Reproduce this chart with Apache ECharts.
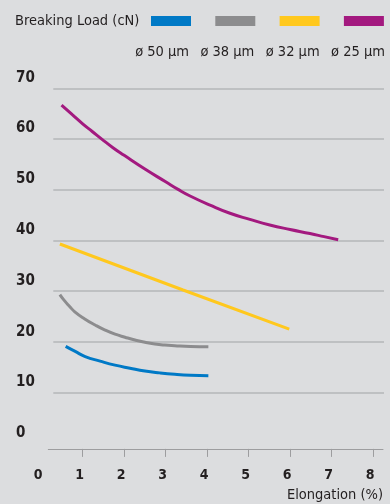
<!DOCTYPE html>
<html>
<head>
<meta charset="utf-8">
<script src="https://cdn.jsdelivr.net/npm/echarts@6/dist/echarts.min.js"></script>
<style>
  html, body { margin: 0; padding: 0; background: #dcdddf; }
  #chart { width: 390px; height: 504px; }
</style>
</head>
<body>
<div id="chart"></div>
<script>
// Breaking load vs elongation for four wire diameters
const seriesNames = ['ø 50 µm', 'ø 38 µm', 'ø 32 µm', 'ø 25 µm'];
const seriesColors = ['#0079c6', '#8c8c8e', '#ffc81e', '#a3197f'];

// [elongation %, breaking load cN]
const wire50 = [[0.59, 19.2], [0.82, 18.2], [1.06, 17.2], [1.42, 16.3], [1.78, 15.5], [2.14, 14.9],
  [2.5, 14.35], [2.86, 13.98], [3.22, 13.7], [3.6, 13.5], [4.03, 13.4]];
const wire38 = [[0.45, 29.4], [0.55, 28.3], [0.68, 27.1], [0.81, 26.0], [1.05, 24.6], [1.3, 23.4],
  [1.54, 22.4], [1.78, 21.6], [2.02, 21.0], [2.26, 20.45], [2.5, 20.0], [2.74, 19.66],
  [2.98, 19.45], [3.22, 19.33], [3.6, 19.18], [4.03, 19.1]];
const wire32 = [[0.45, 39.35], [3.42, 30.3], [5.98, 22.6]];
const wire25 = [[0.49, 66.7], [0.75, 64.8], [1.0, 63.0], [1.23, 61.5], [1.46, 60.0], [1.73, 58.3],
  [2.0, 56.8], [2.5, 54.1], [3.0, 51.6], [3.3, 50.1], [3.59, 48.8], [4.07, 47.0], [4.55, 45.4],
  [5.03, 44.2], [5.51, 43.1], [6.0, 42.2], [6.48, 41.4], [6.82, 40.8], [7.16, 40.2]];
const seriesData = [wire50, wire38, wire32, wire25];

const xTicks = [1, 2, 3, 4, 5, 6, 7, 8];
const xLabels = [0, 1, 2, 3, 4, 5, 6, 7, 8];
const yMin = 0, yMax = 70, yStep = 10;
const xMin = 0, xMax = 8.24;
// the drawn axis line begins a little right of zero
const xLineStart = 0.171;

const FONT = "'Liberation Sans Narrow', 'DejaVu Sans Condensed', 'Roboto', sans-serif";
const TEXT = '#231f20';
const AXIS = '#9d9d9f';

const chart = echarts.init(document.getElementById('chart'), null, { renderer: 'canvas' });

// plot area shared by the series; the x axis sits a few pixels below the zero line
const plotTop = 88.3, plotBottom = 60.1, axisBottom = 55.1;

const isWhole = v => Math.abs(v - Math.round(v)) < 1e-6;

chart.setOption({
  animation: false,
  backgroundColor: '#dcdddf',
  title: {
    text: 'Breaking Load (cN)',
    left: 15,
    top: 14,
    padding: 0,
    textStyle: { fontFamily: FONT, fontSize: 14.5, fontWeight: 'normal', color: TEXT }
  },
  legend: [
    {
      // colour swatches
      data: seriesNames,
      left: 151,
      top: 16,
      width: 239,
      padding: 0,
      icon: 'rect',
      itemWidth: 40,
      itemHeight: 10,
      itemGap: 24.3,
      formatter: () => '',
      textStyle: { fontSize: 1 },
      selectedMode: false
    },
    {
      // diameter captions under the swatches
      data: seriesNames,
      left: 128,
      top: 45,
      width: 262,
      padding: 0,
      itemWidth: 0,
      itemHeight: 0,
      itemGap: 4.3,
      itemStyle: { opacity: 0 },
      lineStyle: { opacity: 0 },
      selectedMode: false,
      formatter: n => '{t|' + n + '}',
      textStyle: {
        fontFamily: FONT, fontSize: 14.5, color: TEXT,
        rich: { t: { width: 55, align: 'right', fontFamily: FONT, fontSize: 14.5, color: TEXT } }
      }
    }
  ],
  grid: [
    { left: 41.2, right: 7, top: plotTop, bottom: plotBottom, outerBoundsMode: 'none' },   // series + y labels
    { left: 38.2, right: 10, top: plotTop, bottom: axisBottom, outerBoundsMode: 'none' },  // x labels
    { left: 48.3, right: 7, top: plotTop, bottom: axisBottom, outerBoundsMode: 'none' },   // x axis line, ticks, name
    { left: 53.3, right: 6, top: plotTop, bottom: 111.3, outerBoundsMode: 'none' }         // horizontal grid lines
  ],
  xAxis: [
    {
      gridIndex: 0, type: 'value', min: xMin, max: xMax, show: false
    },
    {
      gridIndex: 1, type: 'value', min: xMin, max: xMax,
      axisLine: { show: false },
      splitLine: { show: false },
      axisTick: { show: false },
      axisLabel: {
        show: true, margin: 19, hideOverlap: false,
        showMinLabel: true, showMaxLabel: false,
        verticalAlign: 'top', lineHeight: 15,
        customValues: xLabels.concat([xMax]),
        formatter: v => (isWhole(v) ? String(Math.round(v)) : ''),
        fontFamily: FONT, fontSize: 14, fontWeight: 'bold', color: TEXT
      }
    },
    {
      gridIndex: 2, type: 'value', min: xLineStart, max: xMax,
      axisLine: { show: true, lineStyle: { color: AXIS, width: 1 } },
      axisTick: { show: true, customValues: xTicks, length: 8, lineStyle: { color: AXIS, width: 1 } },
      axisLabel: { show: false },
      splitLine: { show: false },
      name: 'Elongation (%)',
      nameLocation: 'end',
      nameGap: 0,
      nameMoveOverlap: false,
      nameTextStyle: {
        fontFamily: FONT, fontSize: 14.5, color: TEXT, lineHeight: 15,
        align: 'right', verticalAlign: 'top', padding: [39, 0, 0, 0]
      }
    },
    {
      gridIndex: 3, type: 'value', min: 0, max: 1, show: false
    }
  ],
  yAxis: [
    {
      gridIndex: 0, type: 'value', min: yMin, max: yMax, interval: yStep,
      axisLine: { show: false },
      axisTick: { show: false },
      splitLine: { show: false },
      axisLabel: {
        show: true, align: 'left', margin: 25.2,
        verticalAlign: 'bottom', lineHeight: 21,
        fontFamily: FONT, fontSize: 15, fontWeight: 'bold', color: TEXT
      }
    },
    { gridIndex: 1, type: 'value', min: 0, max: 1, show: false },
    { gridIndex: 2, type: 'value', min: 0, max: 1, show: false },
    {
      gridIndex: 3, type: 'value', min: yMin + yStep, max: yMax, interval: yStep,
      axisLine: { show: false },
      axisTick: { show: false },
      axisLabel: { show: false },
      splitLine: { show: true, lineStyle: { color: '#b5b6b8', width: 1.5 } }
    }
  ],
  series: seriesNames.map((name, i) => ({
    name: name,
    type: 'line',
    xAxisIndex: 0,
    yAxisIndex: 0,
    data: seriesData[i],
    smooth: 0.5,
    showSymbol: false,
    color: seriesColors[i],
    lineStyle: { width: 3, color: seriesColors[i], cap: 'butt' }
  }))
});
</script>
</body>
</html>
